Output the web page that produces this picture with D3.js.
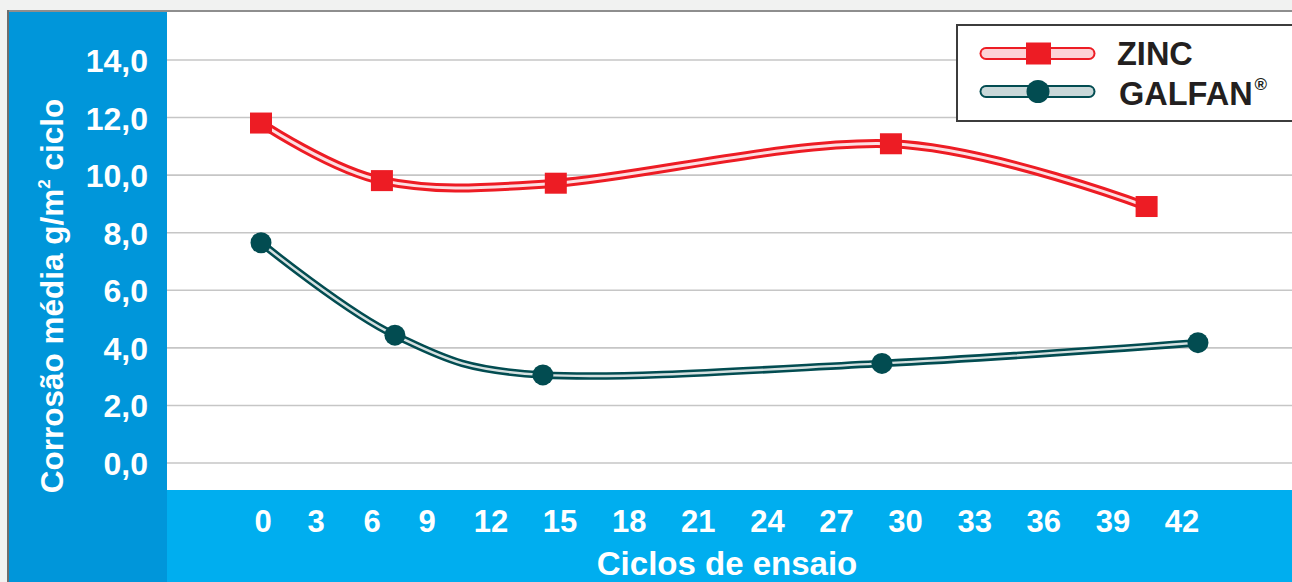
<!DOCTYPE html>
<html>
<head>
<meta charset="utf-8">
<script src="https://cdn.jsdelivr.net/npm/d3@7"></script>
<style>
  html, body { margin: 0; padding: 0; background: #f1f2f1; }
  svg { display: block; }
  text { font-family: "Liberation Sans", Arial, Helvetica, sans-serif; font-weight: bold; }
</style>
</head>
<body>
<svg id="chart" width="1292" height="582"></svg>
<script>
// ---- data ----
const xTickValues = [0, 3, 6, 9, 12, 15, 18, 21, 24, 27, 30, 33, 36, 39, 42];
const yTickValues = [0, 2, 4, 6, 8, 10, 12, 14];
const yTickLabels = ["0,0", "2,0", "4,0", "6,0", "8,0", "10,0", "12,0", "14,0"];
const seriesNames = ["ZINC", "GALFAN"];
const zincCycles = [0, 6.65, 14.9, 29.45, 40.55];
const zincValues = [11.81, 9.81, 9.72, 11.09, 8.91];
const galfanCycles = [0, 7.36, 14.34, 29.06, 42.78];
const galfanValues = [7.65, 4.44, 3.06, 3.46, 4.18];
const xTitle = "Ciclos de ensaio";

// ---- layout ----
const W = 1292, H = 582;
const panelX = 9, plotX = 167, plotTop = 12, bandTop = 490;
const svg = d3.select("#chart");

const x = d3.scaleLinear()
  .domain([0, 3, 6, 9, 12, 42])
  .range([261, 314, 370, 425, 489, 1180]);
const y = d3.scaleLinear().domain([0, 14]).range([463, 60]);

// backgrounds
svg.append("rect").attr("x", 0).attr("y", 0).attr("width", W).attr("height", H).attr("fill", "#f1f2f1");
svg.append("rect").attr("x", panelX).attr("y", plotTop).attr("width", plotX - panelX).attr("height", H - plotTop).attr("fill", "#0096da");
svg.append("rect").attr("x", plotX).attr("y", plotTop).attr("width", W - plotX).attr("height", bandTop - plotTop).attr("fill", "#ffffff");
svg.append("rect").attr("x", plotX).attr("y", bandTop).attr("width", W - plotX).attr("height", H - bandTop).attr("fill", "#00aeef");
// frame lines
svg.append("line").attr("x1", panelX - 1).attr("x2", W).attr("y1", 11).attr("y2", 11).attr("stroke", "#8e8e8e").attr("stroke-width", 2);
svg.append("line").attr("x1", 8).attr("x2", 8).attr("y1", 10).attr("y2", H).attr("stroke", "#6e6e6e").attr("stroke-width", 2);

// gridlines
svg.append("g").selectAll("line").data(yTickValues).join("line")
  .attr("x1", plotX).attr("x2", W)
  .attr("y1", d => y(d)).attr("y2", d => y(d))
  .attr("stroke", "#c6c6c6").attr("stroke-width", 1.6);

// y tick labels
svg.append("g").selectAll("text").data(yTickValues).join("text")
  .attr("x", 148).attr("y", d => y(d) + 12)
  .attr("text-anchor", "end").attr("fill", "#fff").attr("font-size", 32)
  .text((d, i) => yTickLabels[i]);

// x tick labels
svg.append("g").selectAll("text").data(xTickValues).join("text")
  .attr("x", d => x(d) + 2).attr("y", 532)
  .attr("text-anchor", "middle").attr("fill", "#fff").attr("font-size", 31)
  .text(d => d);

// axis titles
svg.append("text").attr("x", 727).attr("y", 575).attr("text-anchor", "middle")
  .attr("fill", "#fff").attr("font-size", 33).text(xTitle);

const yt = svg.append("text").attr("transform", "translate(63,296) rotate(-90)")
  .attr("text-anchor", "middle").attr("fill", "#fff").attr("font-size", 31.5);
yt.append("tspan").text("Corrosão média g/m");
yt.append("tspan").attr("font-size", 17).attr("dy", -13).text("2");
yt.append("tspan").attr("dy", 13).text(" ciclo");

// lines
const line = d3.line().x(d => x(d[0])).y(d => y(d[1])).curve(d3.curveCardinal.tension(0));
const zinc = zincCycles.map((c, i) => [c, zincValues[i]]);
const galfan = galfanCycles.map((c, i) => [c, galfanValues[i]]);

function doubleLine(data, outer, inner, wo, wi) {
  svg.append("path").attr("d", line(data)).attr("fill", "none")
    .attr("stroke", outer).attr("stroke-width", wo).attr("stroke-linejoin", "round");
  svg.append("path").attr("d", line(data)).attr("fill", "none")
    .attr("stroke", inner).attr("stroke-width", wi).attr("stroke-linejoin", "round");
}
doubleLine(zinc, "#ed1c24", "#fcdfe2", 9, 3);
doubleLine(galfan, "#024c51", "#d6e1e1", 7.5, 2.4);

// markers
svg.append("g").selectAll("rect").data(zinc).join("rect")
  .attr("x", d => x(d[0]) - 11).attr("y", d => y(d[1]) - 10.5)
  .attr("width", 22).attr("height", 21).attr("fill", "#ed1c24");
svg.append("g").selectAll("circle").data(galfan).join("circle")
  .attr("cx", d => x(d[0])).attr("cy", d => y(d[1])).attr("r", 10.5).attr("fill", "#024c51");

// legend
const lg = svg.append("g");
lg.append("rect").attr("x", 957).attr("y", 25).attr("width", 360).attr("height", 96)
  .attr("fill", "#fff").attr("stroke", "#3c3c3c").attr("stroke-width", 2);
const legendItems = [
  { name: seriesNames[0], outer: "#ed1c24", inner: "#fdd3d6", cy: 53.5, shape: "square" },
  { name: seriesNames[1], outer: "#024c51", inner: "#c9d8d9", cy: 91.5, shape: "circle" }
];
legendItems.forEach(it => {
  lg.append("line").attr("x1", 986).attr("x2", 1089).attr("y1", it.cy).attr("y2", it.cy)
    .attr("stroke", it.outer).attr("stroke-width", 13).attr("stroke-linecap", "round");
  lg.append("line").attr("x1", 986).attr("x2", 1089).attr("y1", it.cy).attr("y2", it.cy)
    .attr("stroke", it.inner).attr("stroke-width", 9).attr("stroke-linecap", "round");
  if (it.shape === "square") {
    lg.append("rect").attr("x", 1026).attr("y", it.cy - 11).attr("width", 25).attr("height", 22).attr("fill", it.outer);
  } else {
    lg.append("circle").attr("cx", 1038).attr("cy", it.cy).attr("r", 11.5).attr("fill", it.outer);
  }
});
lg.append("text").attr("x", 1117).attr("y", 65).attr("font-size", 32.5).attr("fill", "#231f20").text(seriesNames[0]);
const gt = lg.append("text").attr("x", 1119).attr("y", 105).attr("font-size", 32.5).attr("fill", "#231f20");
gt.append("tspan").text(seriesNames[1]);
gt.append("tspan").attr("font-size", 17).attr("dy", -15).attr("dx", 2).text("®");
</script>
</body>
</html>
